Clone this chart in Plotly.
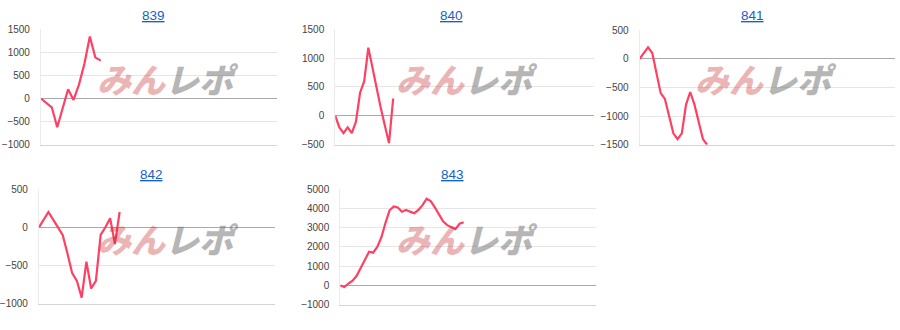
import plotly.graph_objects as go

W, H = 900, 330

titles = ["839", "840", "841", "842", "843"]
v839 = [0, -100, -190, -620, -210, 200, -30, 300, 750, 1340, 890, 820]
v840 = [0, -200, -300, -200, -300, -100, 400, 600, 1180, 820, 480, 140, -170, -470, 300]
v841 = [0, 100, 200, 100, -250, -600, -700, -1000, -1300, -1400, -1300, -800, -580, -800, -1100, -1400, -1500]
v842 = [0, 100, 200, 100, 0, -100, -340, -600, -700, -920, -450, -800, -700, -100, 0, 120, -220, 200]
v843 = [0, -80, 100, 250, 500, 880, 1330, 1750, 1700, 2000, 2500, 3250, 3900, 4100, 4050, 3830, 3920,
        3830, 3750, 3920, 4170, 4500, 4380, 4050, 3720, 3330, 3130, 3020, 2920, 3200, 3280]
series = [v839, v840, v841, v842, v843]
y_ranges = [(-1000, 1500), (-500, 1500), (-1500, 500), (-1000, 500), (-1000, 5000)]
y_steps = [500, 500, 500, 500, 1000]
x_slots = [43.5, 62.5, 60.5, 49.8, 62.1]

# plot-area pixel boxes (left, right, top, bottom)
boxes = [(39, 276, 24, 144), (334, 593, 24, 144), (639, 895, 25, 144),
         (37, 274, 190, 309), (339, 595, 190, 310)]
title_pos = [(152, 9.5), (450, 9.5), (752, 9.5), (150, 175), (452, 175)]
mark_pos = [(166, 75.5), (466, 75.5), (766, 75.5), (166, 241), (466, 241)]

LINE = "#ff4063"
fig = go.Figure()
layout = dict(width=W, height=H, margin=dict(l=0, r=0, t=0, b=0),
              paper_bgcolor="white", plot_bgcolor="white", showlegend=False,
              font=dict(family="Liberation Sans, Arial, sans-serif"))
annotations = []
for i, (vals, t) in enumerate(zip(series, titles)):
    n = i + 1
    sfx = "" if n == 1 else str(n)
    l, r, tp, bt = boxes[i]
    fig.add_trace(go.Scatter(x=list(range(len(vals))), y=vals, mode="lines",
                             line=dict(color=LINE, width=2.2),
                             xaxis="x" + sfx, yaxis="y" + sfx, hoverinfo="skip"))
    layout["xaxis" + sfx] = dict(domain=[l / W, r / W], range=[0, x_slots[i]],
                                 anchor="y" + sfx, showgrid=False, zeroline=False,
                                 showticklabels=False, ticks="", showline=True,
                                 linecolor="#d4d4d4", linewidth=1, fixedrange=True)
    layout["yaxis" + sfx] = dict(domain=[1 - bt / H, 1 - tp / H], range=list(y_ranges[i]),
                                 anchor="x" + sfx, dtick=y_steps[i], tick0=0,
                                 showgrid=True, gridcolor="#e6e6e6", gridwidth=1,
                                 zeroline=True, zerolinecolor="#a9a9a9", zerolinewidth=1,
                                 showline=True, linecolor="#ebebeb", linewidth=1,
                                 ticks="", ticklabelstandoff=8,
                                 tickfont=dict(size=10, color="#444444",
                                               family="Liberation Sans, Arial, sans-serif"),
                                 fixedrange=True)
    tx, ty = title_pos[i]
    annotations.append(dict(text="<u>" + t + "</u>", x=tx / W, y=1 - ty / H,
                            xref="paper", yref="paper", xanchor="center", yanchor="middle",
                            showarrow=False, borderpad=0,
                            font=dict(size=13.5, color="#1560cc",
                                      family="Liberation Sans, Arial, sans-serif")))
    mx, my = mark_pos[i]
    annotations.append(dict(text='<span style="color:rgba(200,40,40,0.35)">みん</span>'
                                 '<span style="color:rgba(110,110,110,0.52)">レポ</span>',
                            x=mx / W, y=1 - my / H, xref="paper", yref="paper",
                            xanchor="center", yanchor="middle", showarrow=False,
                            font=dict(size=34, family="Noto Sans CJK JP", weight=900,
                                      style="italic")))
layout["annotations"] = annotations
fig.update_layout(**layout)
fig.write_html("out.html",
               post_script="document.body.style.margin='0';document.body.style.padding='0';"
                           "document.documentElement.style.overflow='hidden';")
